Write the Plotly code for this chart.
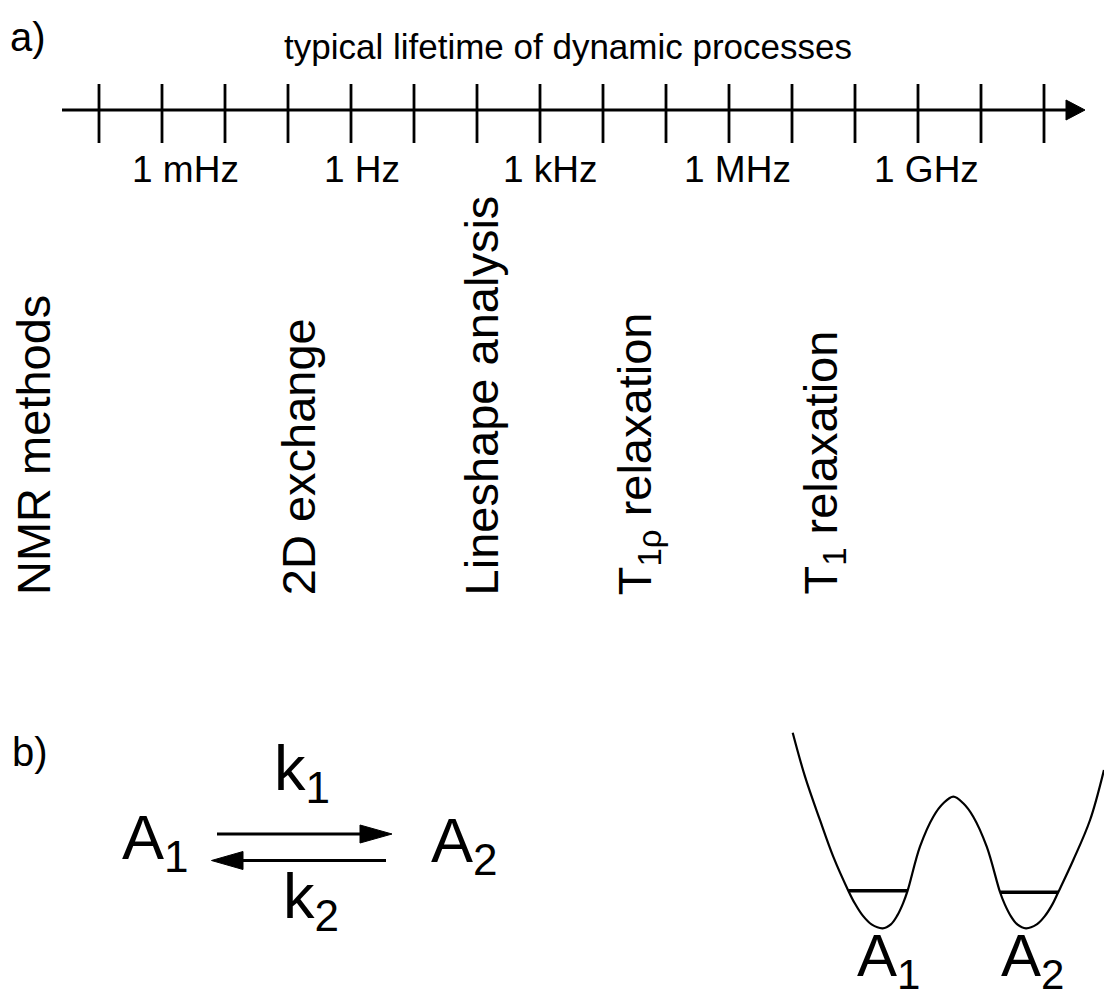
import plotly.graph_objects as go

FONT = "Liberation Sans, Arial, Helvetica, sans-serif"
W, H = 1104, 1003

# ---------------- data ----------------
# frequency scale (log10 of frequency in Hz); one tick per decade
tick_decades = list(range(-4, 12))
freq_labels = ["1 mHz", "1 Hz", "1 kHz", "1 MHz", "1 GHz"]
freq_label_pos = [-2.62, 0.17, 3.17, 6.13, 9.14]

# NMR methods placed along the frequency scale
methods = ["2D exchange", "Lineshape analysis",
           "T<sub>1ρ</sub> relaxation", "T<sub>1</sub> relaxation"]
method_pos = [-0.83, 2.07, 4.55, 7.50]

# double-well potential (reaction coordinate r, energy E)
pot_r = [-1.128, -1.042, -0.938, -0.845, -0.740, -0.695, -0.639, -0.578,
         -0.500, -0.443, -0.399, -0.358, -0.326, -0.240, -0.147, -0.077,
         -0.007, 0.062, 0.132, 0.226, 0.319, 0.352, 0.395, 0.439, 0.500,
         0.575, 0.630, 0.684, 0.725, 0.830, 0.947, 1.044]
pot_E = [1.486, 1.152, 0.823, 0.544, 0.286, 0.190, 0.096, 0.030,
         0.000, 0.030, 0.096, 0.190, 0.286, 0.620, 0.848, 0.950,
         1.000, 0.950, 0.848, 0.620, 0.274, 0.182, 0.091, 0.030, 0.000,
         0.030, 0.091, 0.182, 0.274, 0.519, 0.823, 1.203]
level_left_r = [-0.740, -0.326]
level_left_E = [0.286, 0.286]
level_right_r = [0.319, 0.725]
level_right_E = [0.274, 0.274]
well_labels = ["A<sub>1</sub>", "A<sub>2</sub>"]
well_r = [-0.5, 0.5]
well_E = [0.0, 0.0]

# ---------------- figure ----------------
fig = go.Figure()

# ticks of the frequency scale
tx, ty = [], []
for d in tick_decades:
    tx += [d, d, None]
    ty += [84, 143, None]
fig.add_trace(go.Scatter(x=tx, y=ty, xaxis="x2", yaxis="y", mode="lines",
                         line=dict(color="black", width=2.8),
                         hoverinfo="skip", showlegend=False))

# potential curve
fig.add_trace(go.Scatter(x=pot_r, y=pot_E, xaxis="x3", yaxis="y3", mode="lines",
                         line=dict(color="black", width=2.2, shape="spline",
                                   smoothing=1.0),
                         hoverinfo="skip", showlegend=False))
for lr, le in [(level_left_r, level_left_E), (level_right_r, level_right_E)]:
    fig.add_trace(go.Scatter(x=lr, y=le, xaxis="x3", yaxis="y3", mode="lines",
                             line=dict(color="black", width=3.5),
                             hoverinfo="skip", showlegend=False))

# axis line with arrow head (pixel coordinates of layout axes)
shapes = [
    dict(type="line", xref="x", yref="y", x0=62, x1=1068, y0=110, y1=110,
         line=dict(color="black", width=3)),
    dict(type="path", xref="x", yref="y", path="M 1066 100 L 1085 110 L 1066 120 Z",
         fillcolor="black", line=dict(color="black", width=1)),
    # forward arrow A1 -> A2
    dict(type="line", xref="x", yref="y", x0=217, x1=362, y0=834, y1=834,
         line=dict(color="black", width=3)),
    dict(type="path", xref="x", yref="y", path="M 360 825 L 392 834 L 360 843 Z",
         fillcolor="black", line=dict(color="black", width=1)),
    # backward arrow A2 -> A1
    dict(type="line", xref="x", yref="y", x0=241, x1=386, y0=860.5, y1=860.5,
         line=dict(color="black", width=3)),
    dict(type="path", xref="x", yref="y", path="M 243 851.5 L 211.5 860.5 L 243 869.5 Z",
         fillcolor="black", line=dict(color="black", width=1)),
]

ann = []


def txt(text, x, y, size, xref="x", yref="y", xanchor="left", yanchor="middle",
        angle=0, xshift=0, yshift=0):
    ann.append(dict(text=text, x=x, y=y, xref=xref, yref=yref, xanchor=xanchor,
                    yanchor=yanchor, textangle=angle, showarrow=False,
                    xshift=xshift, yshift=yshift,
                    font=dict(family=FONT, size=size, color="black")))


txt("a)", 8, 37, 40)
txt("typical lifetime of dynamic processes", 568, 46, 35, xanchor="center")
for lab, p in zip(freq_labels, freq_label_pos):
    txt(lab, p, 169, 37, xref="x2", xanchor="center")

txt("NMR methods", 33, 597, 47, xanchor="center", yanchor="bottom", angle=-90)
for m, p in zip(methods, method_pos):
    txt(m, p, 597, 47, xref="x2", xanchor="center", yanchor="bottom", angle=-90)

txt("b)", 10, 752, 40)
txt("A<sub>1</sub>", 120, 841, 63)
txt("A<sub>2</sub>", 429, 844, 63)
txt("k<sub>1</sub>", 272, 772, 63)
txt("k<sub>2</sub>", 281, 900, 63)

for lab, r, e in zip(well_labels, well_r, well_E):
    txt(lab, r, e, 60, xref="x3", yref="y3", xanchor="center", xshift=6, yshift=-32)

# axis ranges (layout axes in pixel units, frequency axis in decades)
d0_px, d_step = 99.0, 63.0
x2_range = [tick_decades[0] - d0_px / d_step,
            tick_decades[0] + (W - d0_px) / d_step]

hidden = dict(visible=False, showgrid=False, zeroline=False, fixedrange=True)
fig.update_layout(
    width=W, height=H, autosize=False,
    margin=dict(l=0, r=0, t=0, b=0, pad=0),
    paper_bgcolor="white", plot_bgcolor="rgba(0,0,0,0)",
    showlegend=False,
    xaxis=dict(range=[0, W], domain=[0, 1], **hidden),
    yaxis=dict(range=[H, 0], domain=[0, 1], **hidden),
    xaxis2=dict(range=x2_range, overlaying="x", anchor="y", **hidden),
    xaxis3=dict(range=[-1.2167, 1.0443], domain=[780 / W, 1.0], anchor="y3", **hidden),
    yaxis3=dict(range=[-0.5676, 1.5828], domain=[0.0, 283 / H], anchor="x3", **hidden),
    shapes=shapes,
    annotations=ann,
)

fig.write_html("out.html")
